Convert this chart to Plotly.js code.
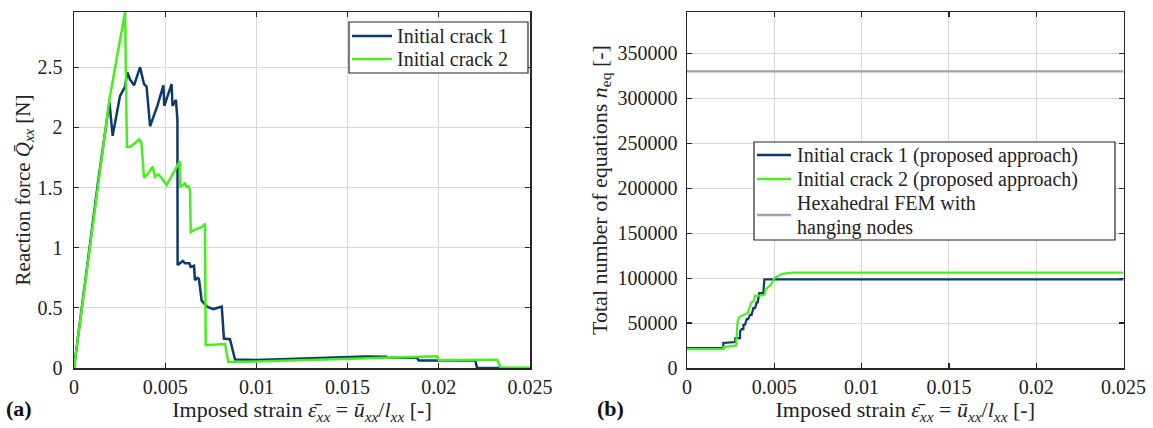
<!DOCTYPE html>
<html><head><meta charset="utf-8">
<script src="https://cdn.plot.ly/plotly-3.0.1.min.js"></script>
<style>html,body{margin:0;padding:0;background:#fff}#chart{width:1153px;height:428px}</style>
</head><body><div id="chart"></div>
<script>
// (a) Reaction force vs imposed strain
const crack1X = [0, 0.00133, 0.00194, 0.00212, 0.00252, 0.0028, 0.00292, 0.00307, 0.00329, 0.00362, 0.00384, 0.00398, 0.00417, 0.00457, 0.0049, 0.00495, 0.00535, 0.0054, 0.00559, 0.00563, 0.00567, 0.00568, 0.00596, 0.00609, 0.00633, 0.0064, 0.00658, 0.00663, 0.00677, 0.00685, 0.007, 0.0073, 0.00764, 0.0081, 0.00822, 0.00855, 0.00883, 0.01, 0.016, 0.0171, 0.0171, 0.0188, 0.0189, 0.022, 0.0221, 0.025];
const crack1Y = [0, 1.56, 2.21, 1.93, 2.26, 2.34, 2.46, 2.40, 2.35, 2.50, 2.36, 2.34, 2.01, 2.18, 2.35, 2.18, 2.36, 2.18, 2.23, 2.06, 2.06, 0.856, 0.89, 0.87, 0.87, 0.84, 0.85, 0.73, 0.75, 0.74, 0.56, 0.51, 0.49, 0.51, 0.245, 0.24, 0.07, 0.066, 0.095, 0.093, 0.085, 0.085, 0.062, 0.062, 0, 0];
const crack2X = [0, 0.00133, 0.00194, 0.0028, 0.0029, 0.0031, 0.00358, 0.0037, 0.00384, 0.00408, 0.00431, 0.00444, 0.00462, 0.0048, 0.00508, 0.00544, 0.00572, 0.0058, 0.00583, 0.00598, 0.00609, 0.00618, 0.00625, 0.00636, 0.0064, 0.00663, 0.007, 0.00718, 0.00722, 0.00828, 0.00846, 0.01, 0.0199, 0.02, 0.0232, 0.0234, 0.025];
const crack2Y = [0, 1.56, 2.23, 2.96, 1.84, 1.84, 1.90, 1.87, 1.58, 1.62, 1.675, 1.59, 1.61, 1.58, 1.52, 1.62, 1.69, 1.72, 1.51, 1.52, 1.54, 1.50, 1.52, 1.48, 1.13, 1.15, 1.17, 1.20, 0.19, 0.20, 0.05, 0.055, 0.097, 0.065, 0.068, 0, 0];

// (b) Total number of equations vs imposed strain
const neq1X = [0, 0.00208, 0.00208, 0.00277, 0.00277, 0.00304, 0.00304, 0.00313, 0.00323, 0.00323, 0.00332, 0.00342, 0.0035, 0.00361, 0.0037, 0.0038, 0.0039, 0.00399, 0.00405, 0.00414, 0.00437, 0.00443, 0.025];
const neq1Y = [22200, 22200, 27800, 28900, 33300, 33300, 40700, 43300, 43300, 48100, 48100, 54400, 54400, 59200, 59200, 66600, 66600, 72900, 72900, 83300, 83300, 98500, 98500];
const neq2X = [0, 0.00208, 0.0021, 0.00281, 0.0029, 0.003, 0.00348, 0.00367, 0.00386, 0.00388, 0.0042, 0.00443, 0.00452, 0.00481, 0.005, 0.00548, 0.00605, 0.025];
const neq2Y = [21100, 21100, 23300, 24800, 51800, 56700, 61100, 72200, 75900, 80300, 80500, 81400, 87800, 92600, 100000, 104800, 106000, 106000];
const hexX = [0, 0.025];
const hexY = [330000, 330000];

const seriesNames = ['Initial crack 1', 'Initial crack 2'];
const seriesNamesB = ['Initial crack 1 (proposed approach)', 'Initial crack 2 (proposed approach)', 'Hexahedral FEM with', 'hanging nodes'];

const W = 1153, H = 428;
const FONT = 'Liberation Serif, DejaVu Serif, serif';
const blue = '#0d3a68', green = '#45f01c', gray = '#a3a3a3';
const TXT = '#222';
const LEGSIZE = 20;
const axisBase = {
  showline: true, linecolor: '#262626', linewidth: 1.5, mirror: 'ticks',
  ticks: 'inside', ticklen: 5, tickcolor: '#262626', tickwidth: 1.2,
  showgrid: true, gridcolor: '#d8d8d8', gridwidth: 1, zeroline: false,
  tickfont: {family: FONT, size: 20, color: TXT}, layer: 'below traces'
};
const xTitle = 'Imposed strain <i>ε̄</i><sub><i>xx</i></sub> = <i>ū</i><sub><i>xx</i></sub>/<i>l</i><sub><i>xx</i></sub> [-]';
const titleFont = {family: FONT, size: 22, color: TXT};

const traces = [
  {x: crack1X, y: crack1Y, name: seriesNames[0], mode: 'lines', line: {color: blue, width: 2.5}, xaxis: 'x', yaxis: 'y', showlegend: false},
  {x: crack2X, y: crack2Y, name: seriesNames[1], mode: 'lines', line: {color: green, width: 2.5}, xaxis: 'x', yaxis: 'y', showlegend: false},
  {x: neq1X, y: neq1Y, name: seriesNamesB[0], mode: 'lines', line: {color: blue, width: 2.2}, xaxis: 'x2', yaxis: 'y2', showlegend: false},
  {x: neq2X, y: neq2Y, name: seriesNamesB[1], mode: 'lines', line: {color: green, width: 2.2}, xaxis: 'x2', yaxis: 'y2', showlegend: false},
  {x: hexX, y: hexY, name: seriesNamesB[2] + ' ' + seriesNamesB[3], mode: 'lines', line: {color: gray, width: 2.2}, xaxis: 'x2', yaxis: 'y2', showlegend: false}
];

// hand-drawn legend boxes (paper coordinates from pixel positions)
const px = v => v / W, py = v => (H - v) / H;
const shapes = [], annotations = [];
function legendBox(x0, y0, x1, y1) {
  shapes.push({type: 'rect', xref: 'paper', yref: 'paper', x0: px(x0), x1: px(x1), y0: py(y0), y1: py(y1),
    line: {color: '#262626', width: 1.2}, fillcolor: '#fff', layer: 'above'});
}
function legendText(tx, ty, text) {
  annotations.push({text: text, xref: 'paper', yref: 'paper', x: px(tx), y: py(ty), xanchor: 'left', yanchor: 'middle',
    showarrow: false, align: 'left', font: {family: FONT, size: LEGSIZE, color: TXT}});
}
function legendItem(lx0, lx1, ly, color, tx, ty, text) {
  shapes.push({type: 'line', xref: 'paper', yref: 'paper', x0: px(lx0), x1: px(lx1), y0: py(ly), y1: py(ly),
    line: {color: color, width: 2.5}, layer: 'above'});
  legendText(tx, ty, text);
}
legendBox(349, 22, 528, 73);
legendItem(352, 392, 36, blue, 395, 36, seriesNames[0]);
legendItem(352, 392, 59, green, 395, 59, seriesNames[1]);
legendBox(754, 142, 1115, 240);
legendItem(757, 791, 155, blue, 795, 155, seriesNamesB[0]);
legendItem(757, 791, 179, green, 795, 179, seriesNamesB[1]);
legendItem(757, 791, 215, gray, 795, 203, seriesNamesB[2]);
legendText(795, 227, seriesNamesB[3]);
annotations.push({text: '<b>(a)</b>', xref: 'paper', yref: 'paper', x: px(4), y: py(408), xanchor: 'left', yanchor: 'middle', showarrow: false, font: {family: FONT, size: 22, color: '#111'}});
annotations.push({text: '<b>(b)</b>', xref: 'paper', yref: 'paper', x: px(595), y: py(408), xanchor: 'left', yanchor: 'middle', showarrow: false, font: {family: FONT, size: 22, color: '#111'}});

const yDom = [(H - 368) / H, (H - 12) / H];
const layout = {
  width: W, height: H, margin: {l: 0, r: 0, t: 0, b: 0},
  paper_bgcolor: '#fff', plot_bgcolor: '#fff', showlegend: false,
  font: {family: FONT, color: TXT},
  xaxis: Object.assign({}, axisBase, {domain: [74 / W, 530 / W], range: [0, 0.025], dtick: 0.005, tick0: 0, anchor: 'y',
    title: {text: xTitle, font: titleFont, standoff: 2}}),
  yaxis: Object.assign({}, axisBase, {domain: yDom, range: [0, 2.96], dtick: 0.5, tick0: 0, anchor: 'x', ticklabelstandoff: 6,
    title: {text: 'Reaction force <i>Q̄</i><sub><i>xx</i></sub> [N]', font: {family: FONT, size: 21, color: TXT}, standoff: 0}}),
  xaxis2: Object.assign({}, axisBase, {domain: [687 / W, 1123.5 / W], range: [0, 0.025], dtick: 0.005, tick0: 0, anchor: 'y2',
    title: {text: xTitle, font: titleFont, standoff: 2}}),
  yaxis2: Object.assign({}, axisBase, {domain: yDom, range: [0, 396000], dtick: 50000, tick0: 0, tickformat: 'd', anchor: 'x2', ticklabelstandoff: 4,
    title: {text: 'Total number of equations <i>n</i><sub>eq</sub> [-]', font: titleFont, standoff: 4}}),
  shapes: shapes,
  annotations: annotations
};
Plotly.newPlot('chart', traces, layout, {displayModeBar: false, staticPlot: true});
</script>
</body></html>
